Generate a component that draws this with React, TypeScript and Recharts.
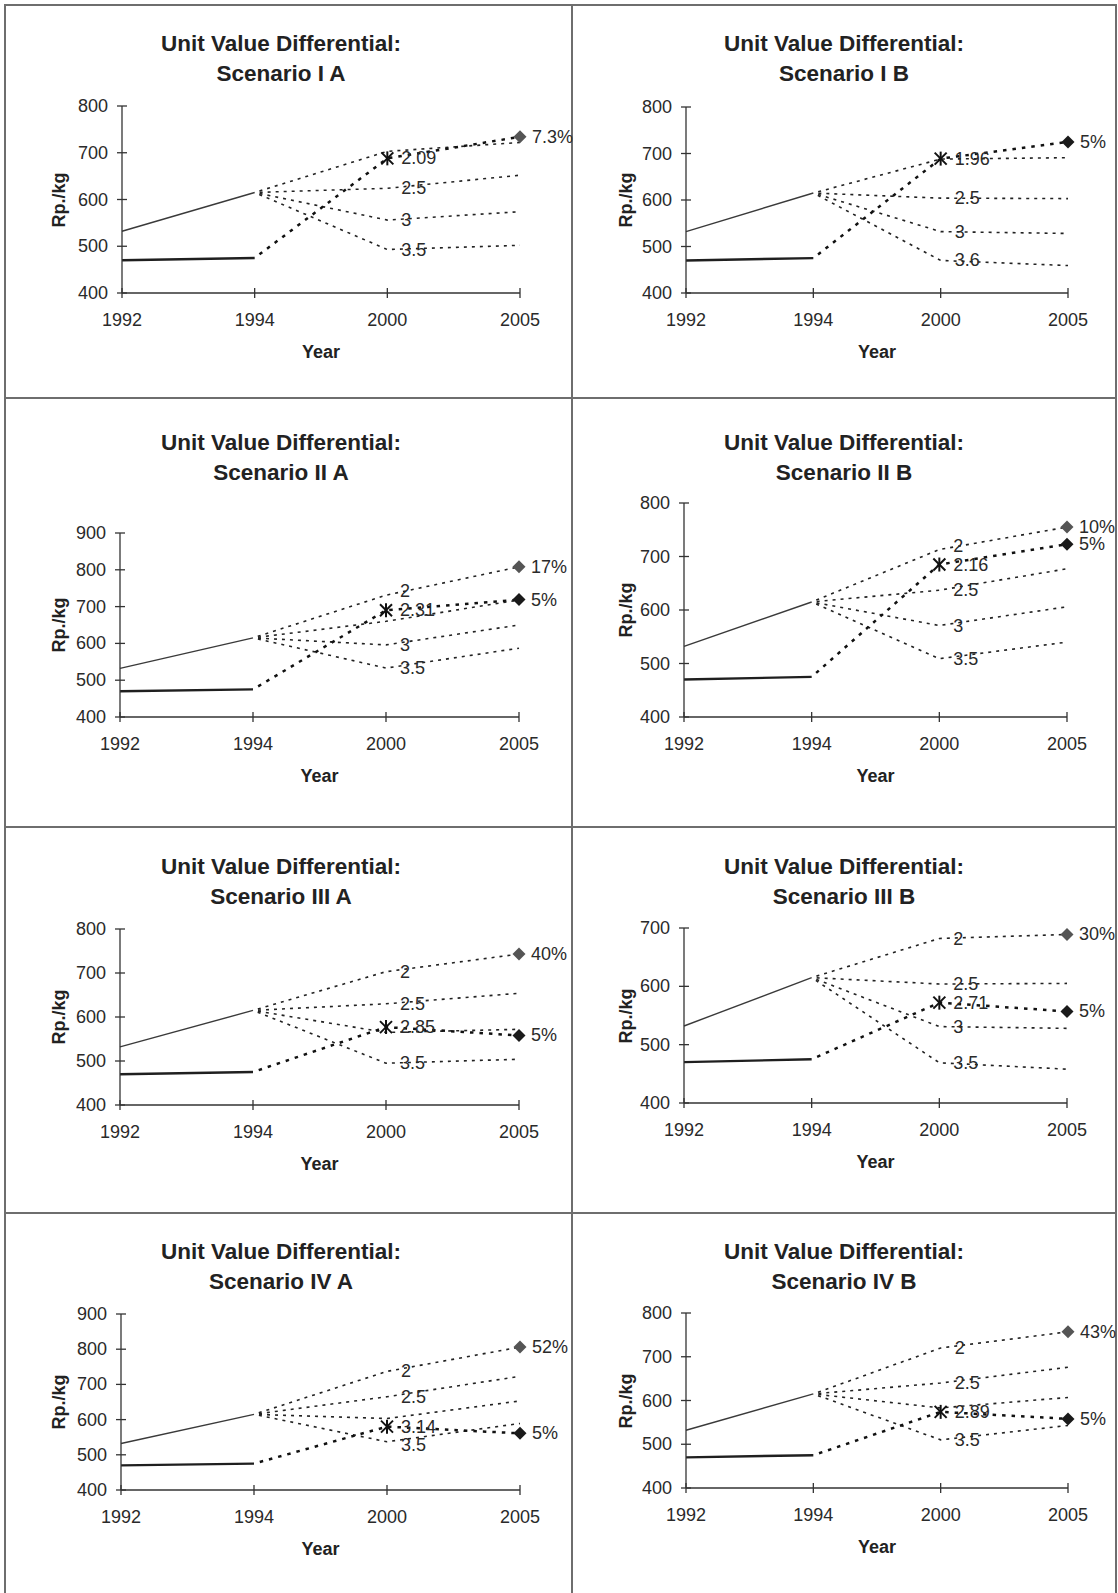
import React from 'react';
import { LineChart, Line, XAxis, YAxis } from 'recharts';

const years = ['1992', '1994', '2000', '2005'];

// observed prices, 1992 and 1994
const upperHistory = [532, 615];
const lowerHistory = [470, 475];

const scenarios = [
  'Scenario I A', 'Scenario I B', 'Scenario II A', 'Scenario II B',
  'Scenario III A', 'Scenario III B', 'Scenario IV A', 'Scenario IV B',
];
const yTops = [800, 800, 900, 800, 800, 700, 900, 800];

// projected unit value by differential, [2000, 2005] for each scenario
const diff2 = [[703, 722], [688, 691], [731, 808], [713, 755], [703, 743], [682, 689], [737, 806], [720, 757]];
const diff25 = [[624, 652], [604, 603], [660, 718], [637, 677], [630, 654], [604, 605], [665, 723], [640, 676]];
const diff3 = [[556, 574], [532, 528], [596, 650], [571, 606], [565, 572], [531, 528], [603, 653], [583, 607]];
const diff35 = [[493, 502], [470, 459], [533, 587], [509, 540], [495, 504], [469, 458], [537, 589], [510, 543]];

// required path: 2000 (star) and 2005 (diamond)
const pathMid = [688, 689, 690, 685, 577, 572, 580, 574];
const pathEnd = [734, 725, 719, 723, 558, 557, 561, 558];
const midLabels = ['2.09', '1.96', '2.31', '2.16', '2.85', '2.71', '3.14', '2.89'];
const endLabels = ['7.3%', '5%', '5%', '5%', '5%', '5%', '5%', '5%'];
const topLabels = ['', '', '17%', '10%', '40%', '30%', '52%', '43%'];

// labels written at 2000 next to each differential line ('' = none)
const fanLabels = [
  ['', '2.5', '3', '3.5'],
  ['', '2.5', '3', '3.6'],
  ['2', '', '3', '3.5'],
  ['2', '2.5', '3', '3.5'],
  ['2', '2.5', '', '3.5'],
  ['2', '2.5', '3', '3.5'],
  ['2', '2.5', '', '3.5'],
  ['2', '2.5', '', '3.5'],
];

const FONT = '"Liberation Sans", Arial, sans-serif';
const INK = '#222';

// page geometry
const plots = [
  { left: 122, right: 520, top: 106, bottom: 293 },
  { left: 686, right: 1068, top: 107, bottom: 293 },
  { left: 120, right: 519, top: 533, bottom: 717 },
  { left: 684, right: 1067, top: 503, bottom: 717 },
  { left: 120, right: 519, top: 929, bottom: 1105 },
  { left: 684, right: 1067, top: 928, bottom: 1103 },
  { left: 121, right: 520, top: 1314, bottom: 1490 },
  { left: 686, right: 1068, top: 1313, bottom: 1488 },
];
const titleRows = [44, 443, 867, 1252];
const titleCenters = [281, 844];
const colLeft = [5, 572];

// vertical nudges for crowded labels at 2000: [panel, line, dy]
const labelNudges: [number, number, number][] = [[2, 0, -4], [3, 0, -4], [6, 3, 3]];
const nudge = (panel: number, line: number) => {
  const n = labelNudges.find((e) => e[0] === panel && e[1] === line);
  return n ? n[2] : 0;
};

const PAD_L = 70;
const PAD_R = 70;
const PAD_T = 12;
const PAD_B = 40;

const buildRows = (i: number) => [
  { year: years[0], upper: upperHistory[0], lower: lowerHistory[0] },
  {
    year: years[1], upper: upperHistory[1], lower: lowerHistory[1],
    d2: upperHistory[1], d25: upperHistory[1], d3: upperHistory[1], d35: upperHistory[1],
    path: lowerHistory[1],
  },
  { year: years[2], d2: diff2[i][0], d25: diff25[i][0], d3: diff3[i][0], d35: diff35[i][0], path: pathMid[i] },
  { year: years[3], d2: diff2[i][1], d25: diff25[i][1], d3: diff3[i][1], d35: diff35[i][1], path: pathEnd[i] },
];

const labelStyle = { fontFamily: FONT, fontSize: 18, fill: '#2a2a2a' };

const Diamond = ({ cx, cy, fill }: any) => (
  <path d={`M${cx},${cy - 6.5}L${cx + 6.5},${cy}L${cx},${cy + 6.5}L${cx - 6.5},${cy}Z`} fill={fill} />
);

const Star = ({ cx, cy }: any) => (
  <g stroke="#111" strokeWidth={2}>
    <line x1={cx - 6} y1={cy - 6} x2={cx + 6} y2={cy + 6} />
    <line x1={cx - 6} y1={cy + 6} x2={cx + 6} y2={cy - 6} />
    <line x1={cx} y1={cy - 7} x2={cx} y2={cy + 7} />
  </g>
);

const XTick = ({ x, y, payload }: any) => (
  <g>
    <line x1={x} x2={x} y1={y - 5} y2={y + 5} stroke="#333" strokeWidth={1.3} />
    <text x={x} y={y + 27} textAnchor="middle" dominantBaseline="central" style={labelStyle}>
      {payload.value}
    </text>
  </g>
);

const YTick = ({ x, y, payload }: any) => (
  <g>
    <line x1={x - 5} x2={x + 5} y1={y} y2={y} stroke="#333" strokeWidth={1.3} />
    <text x={x - 14} y={y} textAnchor="end" dominantBaseline="central" style={labelStyle}>
      {payload.value}
    </text>
  </g>
);

const fanDot = (panel: number, line: number) => (props: any) => {
  const { cx, cy, index } = props;
  const key = `fd-${line}-${index}`;
  if (cx == null || cy == null) return <g key={key} />;
  if (index === 2 && fanLabels[panel][line]) {
    return (
      <text key={key} x={cx + 14} y={cy + nudge(panel, line)} dominantBaseline="central" style={labelStyle}>
        {fanLabels[panel][line]}
      </text>
    );
  }
  if (index === 3 && line === 0 && topLabels[panel]) {
    return (
      <g key={key}>
        <Diamond cx={cx} cy={cy} fill="#555" />
        <text x={cx + 12} y={cy} dominantBaseline="central" style={labelStyle}>{topLabels[panel]}</text>
      </g>
    );
  }
  return <g key={key} />;
};

const pathDot = (panel: number) => (props: any) => {
  const { cx, cy, index } = props;
  const key = `pd-${index}`;
  if (cx == null || cy == null) return <g key={key} />;
  if (index === 2) {
    return (
      <g key={key}>
        <Star cx={cx} cy={cy} />
        <text x={cx + 14} y={cy} dominantBaseline="central" style={labelStyle}>{midLabels[panel]}</text>
      </g>
    );
  }
  if (index === 3) {
    return (
      <g key={key}>
        <Diamond cx={cx} cy={cy} fill={panel === 0 ? '#555' : '#1a1a1a'} />
        <text x={cx + 12} y={cy} dominantBaseline="central" style={labelStyle}>{endLabels[panel]}</text>
      </g>
    );
  }
  return <g key={key} />;
};

const fanKeys = ['d2', 'd25', 'd3', 'd35'];

const Panel = ({ i }: { i: number }) => {
  const p = plots[i];
  const col = i % 2;
  const row = Math.floor(i / 2);
  const w = p.right - p.left;
  const h = p.bottom - p.top;
  const ticks: number[] = [];
  for (let v = 400; v <= yTops[i]; v += 100) ticks.push(v);
  const text = (x: number, y: number, s: string, extra: React.CSSProperties = {}) => (
    <div
      style={{
        position: 'absolute', left: x, top: y, transform: 'translate(-50%, -50%)',
        whiteSpace: 'nowrap', lineHeight: 1, fontFamily: FONT, color: INK, ...extra,
      }}
    >
      {s}
    </div>
  );

  return (
    <>
      {text(titleCenters[col], titleRows[row], 'Unit Value Differential:', { fontSize: 22.5, fontWeight: 'bold' })}
      {text(titleCenters[col], titleRows[row] + 30, scenarios[i], { fontSize: 22.5, fontWeight: 'bold' })}
      {text((p.left + p.right) / 2, p.bottom + 59, 'Year', { fontSize: 18, fontWeight: 'bold' })}
      {text(colLeft[col] + 54, (p.top + p.bottom) / 2, 'Rp./kg', {
        fontSize: 18, fontWeight: 'bold', transform: 'translate(-50%, -50%) rotate(-90deg)',
      })}
      <div style={{ position: 'absolute', left: p.left - PAD_L, top: p.top - PAD_T }}>
        <LineChart
          width={w + PAD_L + PAD_R}
          height={h + PAD_T + PAD_B}
          data={buildRows(i)}
          margin={{ top: PAD_T, right: PAD_R, left: 0, bottom: 0 }}
        >
          <XAxis
            dataKey="year"
            type="category"
            interval={0}
            height={PAD_B}
            tickLine={false}
            tickSize={0}
            tickMargin={0}
            tick={<XTick />}
            axisLine={{ stroke: '#333', strokeWidth: 1.3 }}
          />
          <YAxis
            type="number"
            domain={[400, yTops[i]]}
            ticks={ticks}
            width={PAD_L}
            tickLine={false}
            tickSize={0}
            tickMargin={0}
            tick={<YTick />}
            axisLine={{ stroke: '#333', strokeWidth: 1.3 }}
          />
          <Line dataKey="upper" stroke="#3a3a3a" strokeWidth={1.4} dot={false} isAnimationActive={false} />
          <Line dataKey="lower" stroke="#1f1f1f" strokeWidth={2.4} dot={false} isAnimationActive={false} />
          {fanKeys.map((k, li) => (
            <Line
              key={k}
              dataKey={k}
              stroke="#222"
              strokeWidth={1.6}
              strokeDasharray="3 5"
              strokeDashoffset={3}
              dot={fanDot(i, li)}
              activeDot={false}
              isAnimationActive={false}
            />
          ))}
          <Line
            dataKey="path"
            stroke="#111"
            strokeWidth={2.5}
            strokeDasharray="3.5 6"
            strokeDashoffset={3.5}
            dot={pathDot(i)}
            activeDot={false}
            isAnimationActive={false}
          />
        </LineChart>
      </div>
    </>
  );
};

const rule = (style: React.CSSProperties) => (
  <div style={{ position: 'absolute', background: '#6e6e6e', ...style }} />
);

export default function App() {
  return (
    <div
      style={{
        position: 'absolute', left: 0, top: 0, width: 1118, height: 1593,
        background: '#fff', overflow: 'hidden',
      }}
    >
      <style>{'.recharts-surface{overflow:visible}'}</style>
      {rule({ left: 4, top: 4, width: 1113, height: 2 })}
      {rule({ left: 4, top: 397, width: 1113, height: 2 })}
      {rule({ left: 4, top: 826, width: 1113, height: 2 })}
      {rule({ left: 4, top: 1212, width: 1113, height: 2 })}
      {rule({ left: 4, top: 4, width: 2, height: 1589 })}
      {rule({ left: 571, top: 4, width: 2, height: 1589 })}
      {rule({ left: 1115, top: 4, width: 2, height: 1589 })}
      {scenarios.map((_, i) => (
        <Panel key={i} i={i} />
      ))}
    </div>
  );
}
